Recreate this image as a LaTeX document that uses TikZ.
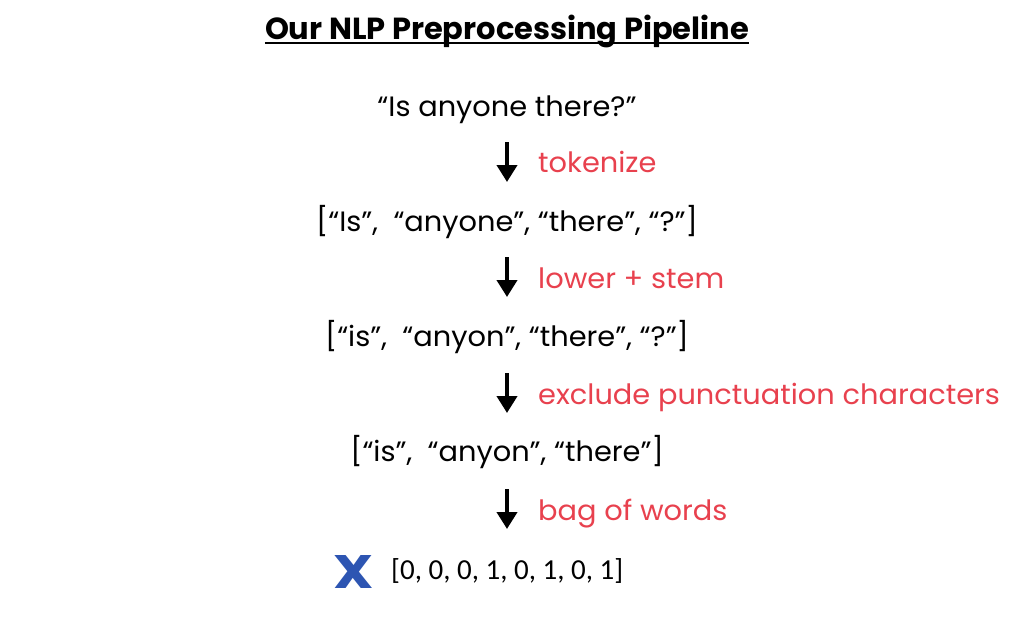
\documentclass[tikz,border=0pt]{standalone}
\usepackage{fontspec}
\setmainfont{Poppins}
\newfontfamily\bodyfont[FakeStretch=1.03]{Poppins}
\newfontfamily\calib{Carlito}
\newfontfamily\xfont[FakeStretch=1.2]{Poppins Bold}
\usetikzlibrary{arrows.meta}
\definecolor{lblred}{HTML}{E8414E}
\definecolor{xblue}{HTML}{2D55B2}
\tikzset{
  line/.style={font=\bodyfont\fontsize{28}{32}\selectfont, inner sep=0pt, anchor=base},
  lbl/.style={font=\bodyfont\fontsize{28}{32}\selectfont, text=lblred, inner sep=0pt, anchor=base west},
  downarrow/.style={line width=4pt, -{Triangle[width=20pt,length=17pt]}},
}
\begin{document}
\begin{tikzpicture}[x=1pt,y=1pt]
\useasboundingbox (0,0) rectangle (1010,-618);
\node[inner sep=0pt, anchor=base, font=\fontsize{30.5}{34}\selectfont\bfseries] (title) at (507,-40) {Our NLP Preprocessing Pipeline};
\draw[line width=2pt] ([yshift=-3.5pt]title.base west) -- ([yshift=-3.5pt]title.base east);
\node[line] (s0) at (507,-117) {“Is anyone there?”};
\node[line] (s1) at (507,-231) {[“Is”,~ “anyone”, “there”, “?”]};
\node[line] (s2) at (507,-346) {[“is”,~ “anyon”, “there”, “?”]};
\node[line] (s3) at (507,-461) {[“is”,~ “anyon”, “there”]};
\coordinate (a0s) at (507,-142); \coordinate (a0e) at (507,-182);
\coordinate (a1s) at (507,-257); \coordinate (a1e) at (507,-297);
\coordinate (a2s) at (507,-373); \coordinate (a2e) at (507,-413);
\coordinate (a3s) at (507,-489); \coordinate (a3e) at (507,-529);
\draw[downarrow] (a0s) -- (a0e);
\draw[downarrow] (a1s) -- (a1e);
\draw[downarrow] (a2s) -- (a2e);
\draw[downarrow] (a3s) -- (a3e);
\node[lbl] (l0) at (538,-172) {tokenize};
\node[lbl] (l1) at (538,-288) {lower + stem};
\node[lbl] (l2) at (538,-404) {exclude punctuation characters};
\node[lbl] (l3) at (538,-520) {bag of words};
\node[inner sep=0pt, text=xblue, font=\xfont\fontsize{47}{50}\selectfont] (x) at (354,-572) {X};
\node[inner sep=0pt, anchor=west, font=\calib\fontsize{29}{32}\selectfont] (vec) at (391,-571) {[0, 0, 0, 1, 0, 1, 0, 1]};
\end{tikzpicture}
\end{document}
